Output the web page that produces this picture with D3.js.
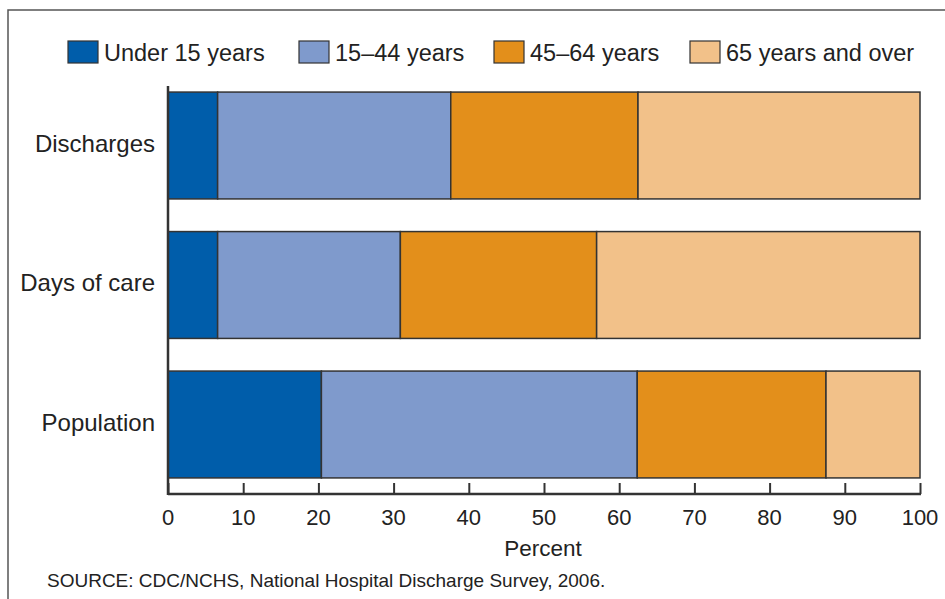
<!DOCTYPE html>
<html>
<head>
<meta charset="utf-8">
<script src="https://cdn.jsdelivr.net/npm/d3@7/dist/d3.min.js"></script>
<style>
  body { margin: 0; background: #fff; }
  svg { display: block; font-family: "Liberation Sans", Arial, sans-serif; }
</style>
</head>
<body>
<svg width="945" height="599"></svg>
<script>
const categories = ["Discharges", "Days of care", "Population"];
const groups = ["Under 15 years", "15\u201344 years", "45\u201364 years", "65 years and over"];
const colors = ["#005daa", "#7f9acc", "#e38f1b", "#f2c189"];

// percent shares
const under15 = [6.6, 6.6, 20.4];
const age15to44 = [31.0, 24.3, 42.0];
const age45to64 = [24.9, 26.1, 25.1];
const age65plus = [37.5, 43.0, 12.5];

const ticks = [0, 10, 20, 30, 40, 50, 60, 70, 80, 90, 100];

const svg = d3.select("svg");

// frame, only left and top edges are inside the picture
svg.append("rect")
  .attr("x", 8).attr("y", 10)
  .attr("width", 1000).attr("height", 700)
  .attr("fill", "none")
  .attr("stroke", "#555")
  .attr("stroke-width", 1.5);

const x = d3.scaleLinear().domain([0, 100]).range([168, 920]);
const y = d3.scaleBand()
  .domain(categories)
  .range([75.75, 494.25])
  .paddingInner(0.234)
  .paddingOuter(0.117);

const rows = categories.map((c, i) => {
  const r = { cat: c };
  r[groups[0]] = under15[i];
  r[groups[1]] = age15to44[i];
  r[groups[2]] = age45to64[i];
  r[groups[3]] = age65plus[i];
  return r;
});

const stack = d3.stack().keys(groups)(rows);

svg.append("g")
  .selectAll("g")
  .data(stack)
  .join("g")
  .attr("fill", (d, i) => colors[i])
  .selectAll("rect")
  .data(d => d)
  .join("rect")
  .attr("x", d => x(d[0]))
  .attr("y", d => y(d.data.cat))
  .attr("width", d => x(d[1]) - x(d[0]))
  .attr("height", y.bandwidth())
  .attr("stroke", "#333")
  .attr("stroke-width", 1.5);

// x axis, ticks pointing up
const xAxis = svg.append("g")
  .attr("transform", "translate(0,494)")
  .call(d3.axisTop(x).tickValues(ticks).tickSize(11).tickSizeOuter(0).tickFormat(""));
xAxis.select(".domain").remove();
xAxis.selectAll("line").attr("stroke", "#333").attr("stroke-width", 2);
xAxis.append("line")
  .attr("x1", x(0)).attr("x2", x(100) + 1)
  .attr("stroke", "#333").attr("stroke-width", 2.5);

svg.append("g")
  .selectAll("text")
  .data(ticks)
  .join("text")
  .attr("x", d => x(d))
  .attr("y", 525)
  .attr("text-anchor", "middle")
  .attr("font-size", 22)
  .attr("fill", "#222")
  .text(d => d);

// y axis line
svg.append("line")
  .attr("x1", 168).attr("x2", 168)
  .attr("y1", 86).attr("y2", 495)
  .attr("stroke", "#333").attr("stroke-width", 2.5);

svg.append("g")
  .selectAll("text")
  .data(categories)
  .join("text")
  .attr("x", 155)
  .attr("y", d => y(d) + y.bandwidth() / 2 - 2)
  .attr("dy", "0.35em")
  .attr("text-anchor", "end")
  .attr("font-size", 24)
  .attr("fill", "#222")
  .text(d => d);

svg.append("text")
  .attr("x", 543).attr("y", 556)
  .attr("text-anchor", "middle")
  .attr("font-size", 22.5)
  .attr("fill", "#222")
  .text("Percent");

svg.append("text")
  .attr("x", 47).attr("y", 587)
  .attr("font-size", 19)
  .attr("fill", "#222")
  .text("SOURCE: CDC/NCHS, National Hospital Discharge Survey, 2006.");

// legend
const legendX = [68, 299, 494, 690];
const legend = svg.append("g")
  .selectAll("g")
  .data(groups)
  .join("g")
  .attr("transform", (d, i) => `translate(${legendX[i]},41)`);
legend.append("rect")
  .attr("width", 30).attr("height", 22)
  .attr("fill", (d, i) => colors[i])
  .attr("stroke", "#333").attr("stroke-width", 1.2);
legend.append("text")
  .attr("x", 36).attr("y", 20)
  .attr("font-size", 23.5)
  .attr("fill", "#222")
  .text(d => d);
</script>
</body>
</html>
